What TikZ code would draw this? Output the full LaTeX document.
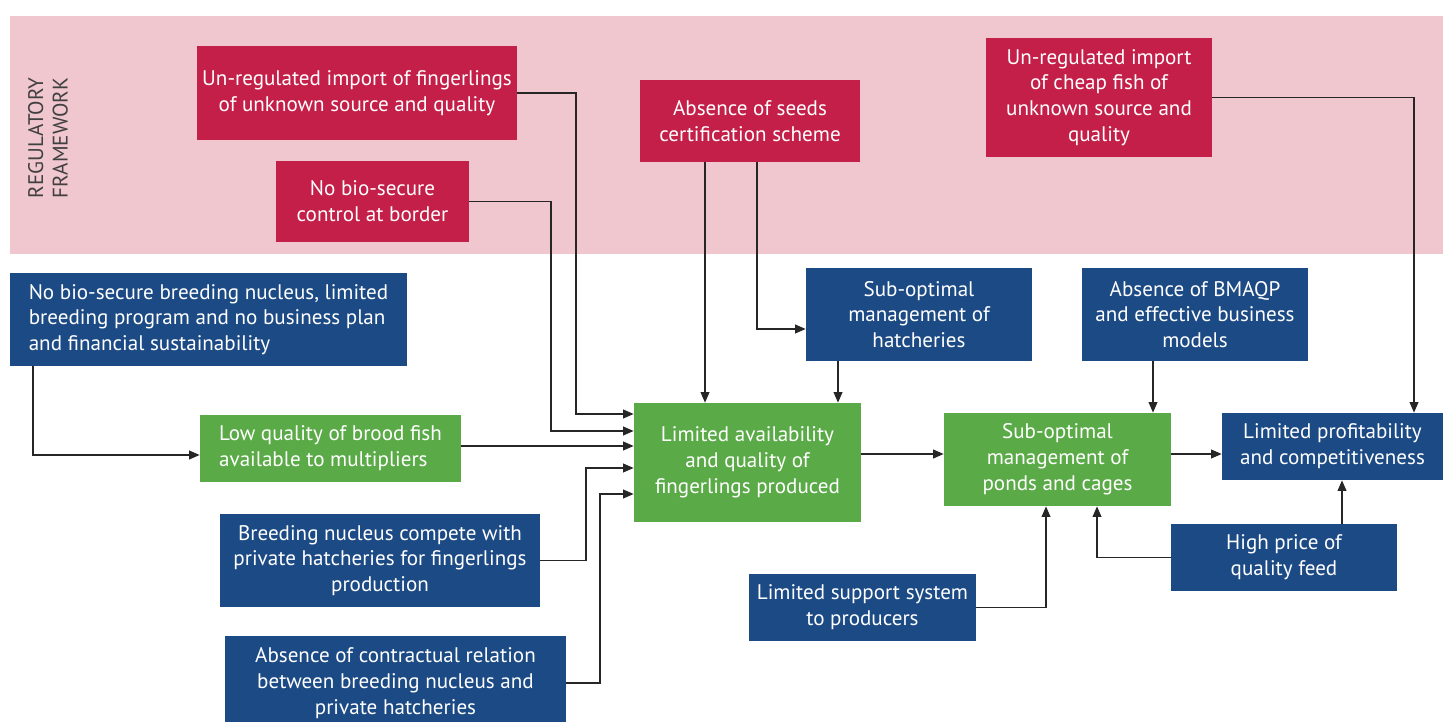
\documentclass[tikz,border=0pt]{standalone}
\usepackage{fontspec}
\setmainfont{PT Sans}
\usetikzlibrary{arrows.meta}
\definecolor{regred}{HTML}{C41F48}
\definecolor{regpink}{HTML}{F0C6CF}
\definecolor{probblue}{HTML}{1C4A85}
\definecolor{probgreen}{HTML}{5AAB47}
\begin{document}
\begin{tikzpicture}[x=0.02cm,y=-0.02cm,
  box/.style={text=white,inner sep=2pt,align=center,font=\fontsize{12}{14.7}\selectfont},
  redbox/.style={box,fill=regred},
  bluebox/.style={box,fill=probblue},
  greenbox/.style={box,fill=probgreen},
  arr/.style={-{Triangle[length=6pt,width=5pt]},line width=0.7pt,draw=black!85}]
  \useasboundingbox (0,0) rectangle (1443,722);
  \fill[regpink] (10,16) rectangle (1443,254);
  \node[rotate=90,text=black!75,align=center,font=\fontsize{12}{14}\selectfont] (frame) at (48,138)
    {REGULATORY\\FRAMEWORK};
  %
  % regulatory causes
  \node[redbox,minimum width=6.4cm,minimum height=1.88cm] (import) at (357,93)
    {Un-regulated import of fingerlings\\of unknown source and quality};
  \node[redbox,minimum width=3.86cm,minimum height=1.62cm] (border) at (372.5,201.5)
    {No bio-secure\\control at border};
  \node[redbox,minimum width=4.4cm,minimum height=1.64cm] (cert) at (750,121)
    {Absence of seeds\\certification scheme};
  \node[redbox,minimum width=4.52cm,minimum height=2.38cm] (cheap) at (1099,97.5)
    {Un-regulated import\\of cheap fish of\\unknown source and\\quality};
  %
  % other causes
  \node[bluebox,align=left,minimum width=7.94cm,minimum height=1.86cm] (nucleus) at (208.5,319.5)
    {No bio-secure breeding nucleus, limited\\breeding program and no business plan\\and financial sustainability};
  \node[bluebox,minimum width=4.52cm,minimum height=1.86cm] (hatch) at (919,314.5)
    {Sub-optimal\\management of\\hatcheries};
  \node[bluebox,minimum width=4.52cm,minimum height=1.86cm] (bmaqp) at (1195,314.5)
    {Absence of BMAQP\\and effective business\\models};
  \node[bluebox,minimum width=6.4cm,minimum height=1.86cm] (compete) at (380,560.5)
    {Breeding nucleus compete with\\private hatcheries for fingerlings\\production};
  \node[bluebox,minimum width=6.82cm,minimum height=1.88cm] (contract) at (395.5,683)
    {Absence of contractual relation\\between breeding nucleus and\\private hatcheries};
  \node[bluebox,minimum width=4.54cm,minimum height=1.34cm] (support) at (862.5,607.5)
    {Limited support system\\to producers};
  \node[bluebox,minimum width=4.42cm,minimum height=1.34cm] (profit) at (1332.5,446.5)
    {Limited profitability\\and competitiveness};
  \node[bluebox,minimum width=4.52cm,minimum height=1.34cm] (feed) at (1284,557.5)
    {High price of\\quality feed};
  %
  % core problems
  \node[greenbox,align=left,minimum width=5.22cm,minimum height=1.34cm] (brood) at (330.5,448.5)
    {Low quality of brood fish\\available to multipliers};
  \node[greenbox,minimum width=4.54cm,minimum height=2.38cm] (finger) at (747.5,462.5)
    {Limited availability\\and quality of\\fingerlings produced};
  \node[greenbox,minimum width=4.54cm,minimum height=1.86cm] (ponds) at (1057.5,459.5)
    {Sub-optimal\\management of\\ponds and cages};
  %
  % links into fingerlings
  \draw[arr] (import.east) -| (576,300) |- (finger.west |- 0,414);
  \draw[arr] (border.east) -| (551,300) |- (finger.west |- 0,431);
  \draw[arr] (brood.east |- 0,446) -- (finger.west |- 0,446);
  \draw[arr] (compete.east) -| (586,500) |- (finger.west |- 0,468);
  \draw[arr] (contract.east) -| (600,600) |- (finger.west |- 0,494);
  \draw[arr] (nucleus.south -| 33,0) |- ([yshift=-0.13cm]brood.west);
  \draw[arr] (cert.south -| 705,0) -- (finger.north -| 705,0);
  \draw[arr] (cert.south -| 757,0) |- (hatch.west |- 0,329);
  \draw[arr] (hatch.south -| 838,0) -- (finger.north -| 838,0);
  %
  % links into ponds and profit
  \draw[arr] (finger.east |- 0,454) -- (ponds.west |- 0,454);
  \draw[arr] (bmaqp.south -| 1153,0) -- (ponds.north -| 1153,0);
  \draw[arr] (support.east) -| (ponds.south -| 1046,0);
  \draw[arr] (feed.west) -| (ponds.south -| 1097,0);
  \draw[arr] (ponds.east |- 0,454) -- (profit.west |- 0,454);
  \draw[arr] (feed.north -| 1342,0) -- (profit.south -| 1342,0);
  \draw[arr] (cheap.east) -| (profit.north -| 1414,0);
  %
\end{tikzpicture}
\end{document}
